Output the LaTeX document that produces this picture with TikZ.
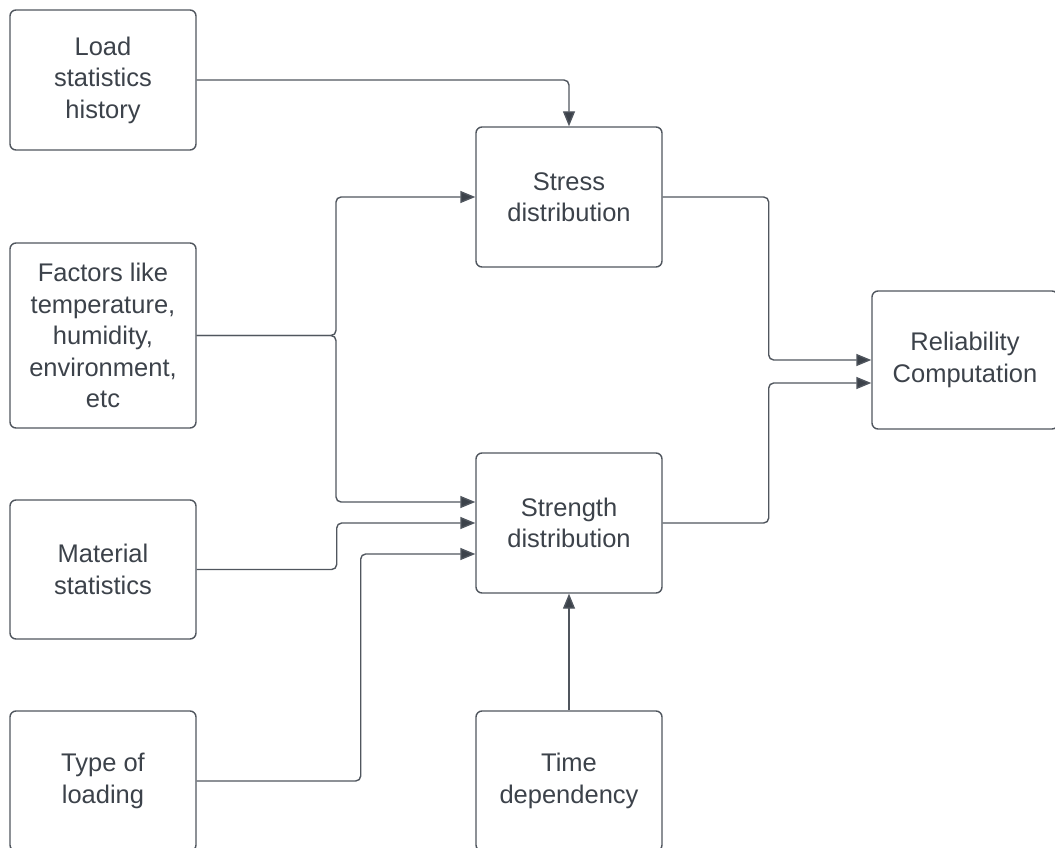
\documentclass[tikz,border=0pt]{standalone}
\usepackage{fontspec}
\setmainfont{Liberation Sans}
\usetikzlibrary{arrows.meta}
\definecolor{ink}{HTML}{3C424A}
\definecolor{edge}{HTML}{50565E}
\begin{document}
\begin{tikzpicture}[
    x=1pt, y=-1pt,
    block/.style={draw=edge, line width=1.4pt, rounded corners=6pt,
        minimum width=186pt, minimum height=140pt, align=center,
        text=ink, font=\fontsize{25.5}{31.5}\selectfont},
    flow/.style={draw=edge, line width=1.4pt, rounded corners=5pt,
        -{Triangle[length=15pt, width=12pt, fill=ink]}},
]
    \clip (0,0) rectangle (1055,848);
    % inputs on the left
    \node[block] (load) at (103, 80)  {Load\\statistics\\history};
    \node[block, minimum height=185pt] (fac) at (103, 335.5)
        {Factors like\\temperature,\\humidity,\\environment,\\etc};
    \node[block, minimum height=139pt] (mat) at (103, 569.5) {Material\\statistics};
    \node[block] (type) at (103, 781) {Type of\\loading};
    % middle column
    \node[block] (stress)   at (569, 197) {Stress\\distribution};
    \node[block] (strength) at (569, 523) {Strength\\distribution};
    \node[block] (time)     at (569, 781) {Time\\dependency};
    % output
    \node[block, minimum height=138pt] (rel) at (965, 360) {Reliability\\Computation};

    \coordinate (split) at (336, 335.5);
    \draw[flow] (load.east) -| (stress.north);
    \draw[flow] (fac.east) -- (split) |- (stress.west);
    \draw[flow] (fac.east) -- (split) |- ([yshift=21pt]strength.west);
    \draw[flow] (mat.east) -- ++(140,0) |- (strength.west);
    \draw[flow] (type.east) -- ++(164,0) |- ([yshift=-31pt]strength.west);
    \draw[flow] (time.north) -- (strength.south);
    \draw[flow] (stress.east) -- ++(106,0) |- (rel.west);
    \draw[flow] (strength.east) -- ++(106,0) |- ([yshift=-23pt]rel.west);
\end{tikzpicture}
\end{document}
